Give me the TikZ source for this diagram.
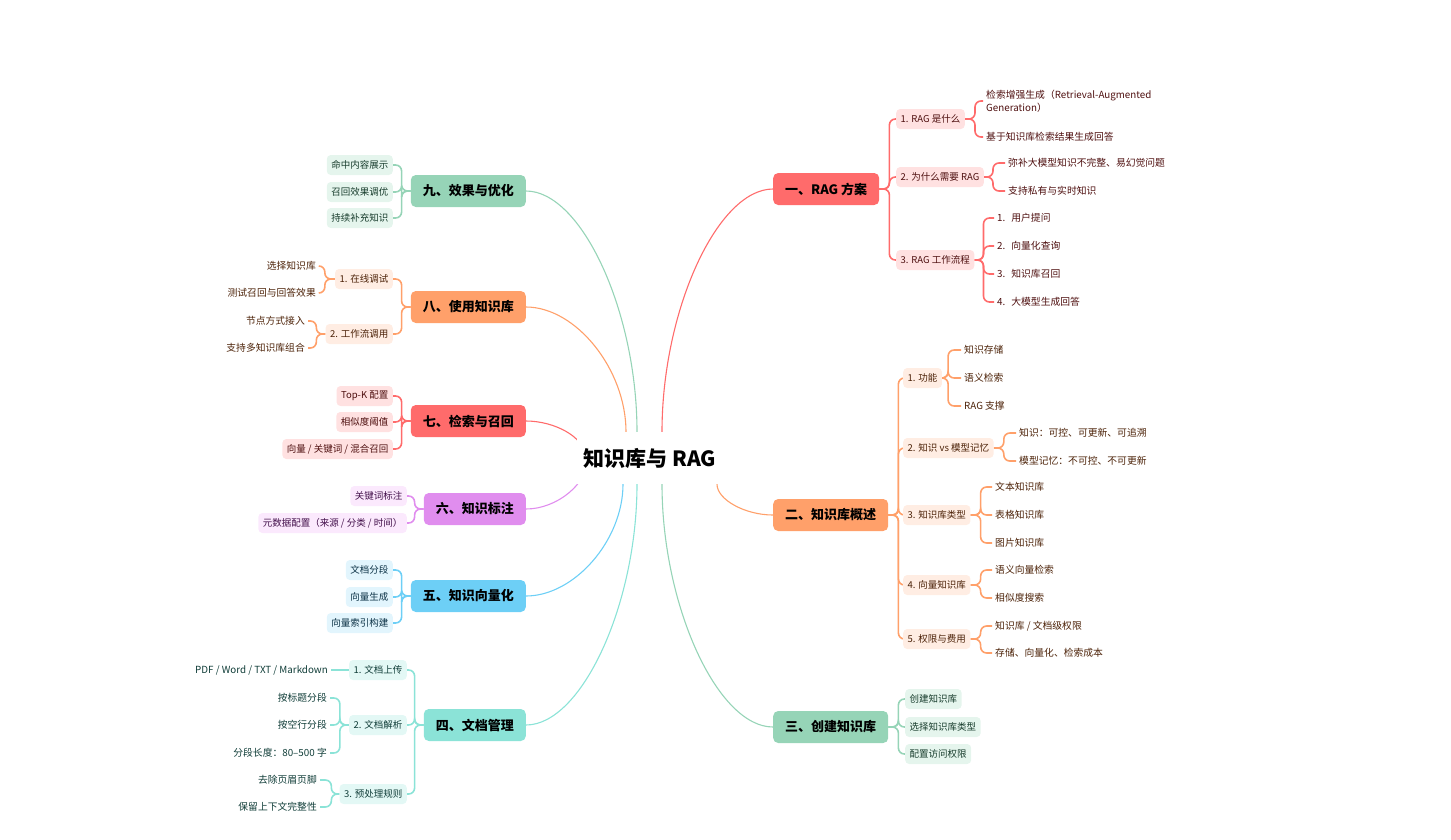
\documentclass[tikz,border=0pt]{standalone}
\usepackage{fontspec}
\setmainfont{Noto Sans CJK SC}
\usetikzlibrary{calc,backgrounds}
\definecolor{redmain}{HTML}{FF6B6B}
\definecolor{redlight}{HTML}{FFE1E1}
\definecolor{redink}{HTML}{4E0F0F}
\definecolor{orgmain}{HTML}{FFA06A}
\definecolor{orglight}{HTML}{FFEDE3}
\definecolor{orgink}{HTML}{4C2208}
\definecolor{grnmain}{HTML}{96D4B7}
\definecolor{grnlight}{HTML}{E5F5ED}
\definecolor{grnink}{HTML}{173C2C}
\definecolor{vltmain}{HTML}{E08DEE}
\definecolor{vltlight}{HTML}{FBE9FD}
\definecolor{vltink}{HTML}{43104B}
\definecolor{blumain}{HTML}{6DCFF6}
\definecolor{blulight}{HTML}{E2F5FD}
\definecolor{bluink}{HTML}{0C3246}
\definecolor{aquamain}{HTML}{8BE3D7}
\definecolor{aqualight}{HTML}{E3F8F5}
\definecolor{aquaink}{HTML}{103D38}
\tikzset{
  root/.style={fill=white, inner sep=0pt, minimum width=147pt, minimum height=52pt, font=\fontsize{21}{25}\selectfont\bfseries},
  topic/.style={fill=#1main, rounded corners=5pt, minimum height=32pt, inner xsep=12pt, font=\fontsize{13}{16}\selectfont\bfseries, text=black},
  sub/.style={fill=#1light, text=#1ink, rounded corners=4pt, minimum height=20pt, inner xsep=4.5pt, inner ysep=2pt, font=\fontsize{9.5}{12}\selectfont},
  leaf/.style={text=#1ink, inner sep=3pt, align=left, font=\fontsize{9.8}{13}\selectfont},
  limb/.style={draw=#1main, line width=1.1pt},
  twig/.style={draw=#1main, line width=1.6pt, rounded corners=6pt}
}
\newcommand{\limb}[3]{%
  \path ($(#2)!0.5!(#3)$) coordinate (mid);
  \draw[limb=#1] (#2) .. controls (#2 |- mid) and (mid |- #3) .. (#3);}
\newcommand{\stepno}[1]{#1.\hspace{6pt}}

\begin{document}
\begin{tikzpicture}[x=1pt,y=-1pt]
\useasboundingbox (0,0) rectangle (1451,839);
% centre and main topics
\node[root] (root) at (650,458) {知识库与 RAG};
\node[topic=red, anchor=west] (t1) at (773,189) {一、RAG 方案};
\node[topic=org, anchor=west] (t2) at (773,515) {二、知识库概述};
\node[topic=grn, anchor=west] (t3) at (773,727) {三、创建知识库};
\node[topic=aqua, anchor=east] (t4) at (526,725) {四、文档管理};
\node[topic=blu, anchor=east] (t5) at (526,596) {五、知识向量化};
\node[topic=vlt, anchor=east] (t6) at (526,509) {六、知识标注};
\node[topic=red, anchor=east] (t7) at (526,421) {七、检索与召回};
\node[topic=org, anchor=east] (t8) at (526,307) {八、使用知识库};
\node[topic=grn, anchor=east] (t9) at (526,191) {九、效果与优化};
\coordinate (o1) at ([xshift=12pt]root.north);
\coordinate (o2) at ([xshift=67pt]root.south);
\coordinate (o3) at ([xshift=12pt]root.south);
\coordinate (o4) at ([xshift=-13pt]root.south);
\coordinate (o5) at ([xshift=-27pt]root.south);
\coordinate (o6) at ([xshift=-62pt]root.center);
\coordinate (o7) at ([xshift=-66pt,yshift=4pt]root.center);
\coordinate (o8) at ([xshift=-24pt]root.north);
\coordinate (o9) at ([xshift=-13pt]root.north);

% 一
\node[sub=red, anchor=west] (r1) at (896,119) {1. RAG 是什么};
\node[sub=red, anchor=west] (r2) at (896,177) {2. 为什么需要 RAG};
\node[sub=red, anchor=west] (r3) at (896,260) {3. RAG 工作流程};
\node[leaf=red, anchor=west] (r11) at (983,101) {检索增强生成（Retrieval-Augmented\\Generation）};
\node[leaf=red, anchor=west] (r12) at (983,137) {基于知识库检索结果生成回答};
\node[leaf=red, anchor=west] (r21) at (1005,163) {弥补大模型知识不完整、易幻觉问题};
\node[leaf=red, anchor=west] (r22) at (1005,191) {支持私有与实时知识};
\node[leaf=red, anchor=west] (r31) at (994,218) {\stepno{1}用户提问};
\node[leaf=red, anchor=west] (r32) at (994,246) {\stepno{2}向量化查询};
\node[leaf=red, anchor=west] (r33) at (994,274) {\stepno{3}知识库召回};
\node[leaf=red, anchor=west] (r34) at (994,302) {\stepno{4}大模型生成回答};

% 二
\node[sub=org, anchor=west] (k1) at (903,378) {1. 功能};
\node[sub=org, anchor=west] (k2) at (903,448) {2. 知识 vs 模型记忆};
\node[sub=org, anchor=west] (k3) at (903,515) {3. 知识库类型};
\node[sub=org, anchor=west] (k4) at (903,585) {4. 向量知识库};
\node[sub=org, anchor=west] (k5) at (903,639) {5. 权限与费用};
\node[leaf=org, anchor=west] (k11) at (961,350) {知识存储};
\node[leaf=org, anchor=west] (k12) at (961,378) {语义检索};
\node[leaf=org, anchor=west] (k13) at (961,406) {RAG 支撑};
\node[leaf=org, anchor=west] (k21) at (1016,433) {知识：可控、可更新、可追溯};
\node[leaf=org, anchor=west] (k22) at (1016,461) {模型记忆：不可控、不可更新};
\node[leaf=org, anchor=west] (k31) at (992,487) {文本知识库};
\node[leaf=org, anchor=west] (k32) at (992,515) {表格知识库};
\node[leaf=org, anchor=west] (k33) at (992,543) {图片知识库};
\node[leaf=org, anchor=west] (k41) at (992,570) {语义向量检索};
\node[leaf=org, anchor=west] (k42) at (992,598) {相似度搜索};
\node[leaf=org, anchor=west] (k51) at (992,626) {知识库 / 文档级权限};
\node[leaf=org, anchor=west] (k52) at (992,653) {存储、向量化、检索成本};

% 三
\node[sub=grn, anchor=west] (c1) at (905,699) {创建知识库};
\node[sub=grn, anchor=west] (c2) at (905,727) {选择知识库类型};
\node[sub=grn, anchor=west] (c3) at (905,754) {配置访问权限};

% 四
\node[sub=aqua, anchor=east] (d1) at (407,670) {1. 文档上传};
\node[sub=aqua, anchor=east] (d2) at (407,725) {2. 文档解析};
\node[sub=aqua, anchor=east] (d3) at (407,794) {3. 预处理规则};
\node[leaf=aqua, anchor=east] (d11) at (331,670) {PDF / Word / TXT / Markdown};
\node[leaf=aqua, anchor=east] (d21) at (330,698) {按标题分段};
\node[leaf=aqua, anchor=east] (d22) at (330,725) {按空行分段};
\node[leaf=aqua, anchor=east] (d23) at (330,753) {分段长度：80–500 字};
\node[leaf=aqua, anchor=east] (d31) at (320,780) {去除页眉页脚};
\node[leaf=aqua, anchor=east] (d32) at (320,807) {保留上下文完整性};

% 五 六 七
\node[sub=blu, anchor=east] (v1) at (393,570) {文档分段};
\node[sub=blu, anchor=east] (v2) at (393,597) {向量生成};
\node[sub=blu, anchor=east] (v3) at (393,623) {向量索引构建};
\node[sub=vlt, anchor=east] (m1) at (407,496) {关键词标注};
\node[sub=vlt, anchor=east] (m2) at (407,523) {元数据配置（来源 / 分类 / 时间）};
\node[sub=red, anchor=east] (q1) at (393,396) {Top-K 配置};
\node[sub=red, anchor=east] (q2) at (393,422) {相似度阈值};
\node[sub=red, anchor=east] (q3) at (393,449) {向量 / 关键词 / 混合召回};

% 八
\node[sub=org, anchor=east] (u1) at (393,279) {1. 在线调试};
\node[sub=org, anchor=east] (u2) at (393,334) {2. 工作流调用};
\node[leaf=org, anchor=east] (u11) at (319,266) {选择知识库};
\node[leaf=org, anchor=east] (u12) at (319,293) {测试召回与回答效果};
\node[leaf=org, anchor=east] (u21) at (308,321) {节点方式接入};
\node[leaf=org, anchor=east] (u22) at (308,348) {支持多知识库组合};

% 九
\node[sub=grn, anchor=east] (e1) at (393,165) {命中内容展示};
\node[sub=grn, anchor=east] (e2) at (393,192) {召回效果调优};
\node[sub=grn, anchor=east] (e3) at (393,218) {持续补充知识};

\begin{scope}[on background layer]
\limb{red}{o1}{t1.west}
\limb{org}{o2}{t2.west}
\limb{grn}{o3}{t3.west}
\limb{aqua}{o4}{t4.east}
\limb{blu}{o5}{t5.east}
\limb{vlt}{o6}{t6.east}
\limb{red}{o7}{t7.east}
\limb{org}{o8}{t8.east}
\limb{grn}{o9}{t9.east}
% right side
\foreach \n in {r1,r2,r3} \draw[twig=red] (t1.east) -- ++(10,0) |- (\n.west);
\foreach \n in {r11,r12} \draw[twig=red] (r1.east) -- ++(10,0) |- (\n.west);
\foreach \n in {r21,r22} \draw[twig=red] (r2.east) -- ++(9,0) |- (\n.west);
\foreach \n in {r31,r32,r33,r34} \draw[twig=red] (r3.east) -- ++(9,0) |- (\n.west);
\foreach \n in {k1,k2,k3,k4,k5} \draw[twig=org] (t2.east) -- ++(10,0) |- (\n.west);
\foreach \n in {k11,k12,k13} \draw[twig=org] (k1.east) -- ++(6,0) |- (\n.west);
\foreach \n in {k21,k22} \draw[twig=org] (k2.east) -- ++(10,0) |- (\n.west);
\foreach \n in {k31,k32,k33} \draw[twig=org] (k3.east) -- ++(10,0) |- (\n.west);
\foreach \n in {k41,k42} \draw[twig=org] (k4.east) -- ++(10,0) |- (\n.west);
\foreach \n in {k51,k52} \draw[twig=org] (k5.east) -- ++(10,0) |- (\n.west);
\foreach \n in {c1,c2,c3} \draw[twig=grn] (t3.east) -- ++(10,0) |- (\n.west);
% left side
\foreach \n in {d1,d2,d3} \draw[twig=aqua] (t4.west) -- ++(-9,0) |- (\n.east);
\draw[twig=aqua] (d1.west) -- (d11.east);
\foreach \n in {d21,d22,d23} \draw[twig=aqua] (d2.west) -- ++(-9,0) |- (\n.east);
\foreach \n in {d31,d32} \draw[twig=aqua] (d3.west) -- ++(-8,0) |- (\n.east);
\foreach \n in {v1,v2,v3} \draw[twig=blu] (t5.west) -- ++(-9,0) |- (\n.east);
\foreach \n in {m1,m2} \draw[twig=vlt] (t6.west) -- ++(-9,0) |- (\n.east);
\foreach \n in {q1,q2,q3} \draw[twig=red] (t7.west) -- ++(-9,0) |- (\n.east);
\foreach \n in {u1,u2} \draw[twig=org] (t8.west) -- ++(-9,0) |- (\n.east);
\foreach \n in {u11,u12} \draw[twig=org] (u1.west) -- ++(-10,0) |- (\n.east);
\foreach \n in {u21,u22} \draw[twig=org] (u2.west) -- ++(-9,0) |- (\n.east);
\foreach \n in {e1,e2,e3} \draw[twig=grn] (t9.west) -- ++(-9,0) |- (\n.east);
\end{scope}
\end{tikzpicture}
\end{document}
